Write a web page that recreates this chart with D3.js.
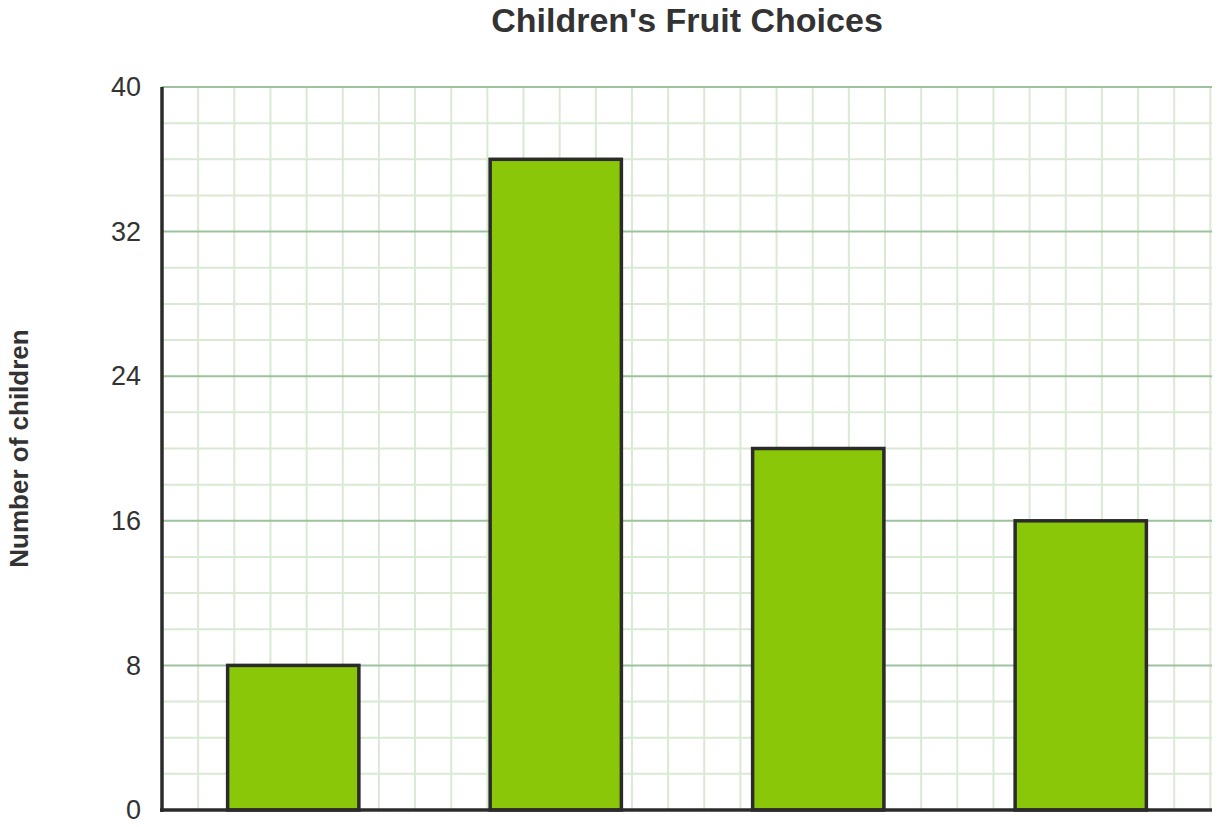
<!DOCTYPE html>
<html>
<head>
<meta charset="utf-8">
<script src="https://cdn.jsdelivr.net/npm/d3@7"></script>
<style>
	body { margin: 0; background: #fff; }
</style>
</head>
<body>
<div class="bar-chart"></div>
<script>
var fruits = ['Apple', 'Banana', 'Orange', 'Pear'];
var children = [8, 36, 20, 16];
var yTicks = [0, 8, 16, 24, 32, 40];
var yMinorTicks = d3.range(0, 41, 2);

var textColor = '#333333',
	axisColor = '#2b2b2b',
	barColor = '#8ac709',
	majorGridColor = '#9dc29d',
	minorGridColor = '#d9ead3';

var width = 1220,
	height = 827;
var margin = {top: 87, left: 162, bottom: 17, right: 8};

var x = d3.scaleBand()
	.domain(fruits)
	.range([margin.left, width - margin.right])
	.paddingInner(0.5)
	.paddingOuter(0.25);
var y = d3.scaleLinear().domain([0, 40]).range([height - margin.bottom, margin.top]);

var svg = d3.select('.bar-chart').append('svg')
	.attr('width', width)
	.attr('height', height)
	.attr('font-family', 'Liberation Sans, Arial, sans-serif');

// square grid: vertical lines spaced like the minor horizontal ones
var cell = y(0) - y(2);
var columns = d3.range(margin.left + cell, width - margin.right + 1, cell);
svg.append('g').selectAll('line')
	.data(columns)
	.join('line')
		.attr('x1', function(d) { return d; })
		.attr('x2', function(d) { return d; })
		.attr('y1', y(40))
		.attr('y2', y(0))
		.attr('stroke', minorGridColor)
		.attr('stroke-width', 2);
svg.append('g').selectAll('line')
	.data(yMinorTicks.filter(function(d) { return d % 8 !== 0; }))
	.join('line')
		.attr('x1', margin.left)
		.attr('x2', width - margin.right)
		.attr('y1', function(d) { return y(d); })
		.attr('y2', function(d) { return y(d); })
		.attr('stroke', minorGridColor)
		.attr('stroke-width', 2);
svg.append('g').selectAll('line')
	.data(yTicks.filter(function(d) { return d > 0; }))
	.join('line')
		.attr('x1', margin.left)
		.attr('x2', width - margin.right)
		.attr('y1', function(d) { return y(d); })
		.attr('y2', function(d) { return y(d); })
		.attr('stroke', majorGridColor)
		.attr('stroke-width', 2);

// bars
svg.append('g').selectAll('rect')
	.data(children)
	.join('rect')
		.attr('x', function(d, i) { return x(fruits[i]); })
		.attr('y', function(d) { return y(d); })
		.attr('width', x.bandwidth())
		.attr('height', function(d) { return y(0) - y(d); })
		.attr('fill', barColor)
		.attr('stroke', axisColor)
		.attr('stroke-width', 3.5);

// axes
svg.append('line')
	.attr('x1', margin.left)
	.attr('x2', margin.left)
	.attr('y1', y(40))
	.attr('y2', y(0) + 2)
	.attr('stroke', axisColor)
	.attr('stroke-width', 3.5);
svg.append('line')
	.attr('x1', margin.left - 2)
	.attr('x2', width - margin.right)
	.attr('y1', y(0))
	.attr('y2', y(0))
	.attr('stroke', axisColor)
	.attr('stroke-width', 3.5);

var yAxis = svg.append('g')
	.attr('transform', 'translate(' + margin.left + ',0)')
	.call(d3.axisLeft(y).tickValues(yTicks).tickSize(0).tickPadding(21));
yAxis.select('.domain').remove();
yAxis.selectAll('text')
	.attr('font-family', 'Liberation Sans, Arial, sans-serif')
	.attr('font-size', '27px')
	.attr('fill', textColor);

// title and axis label
svg.append('text')
	.attr('x', (margin.left + width - margin.right) / 2)
	.attr('y', 32)
	.attr('text-anchor', 'middle')
	.attr('font-size', '34px')
	.attr('font-weight', 'bold')
	.attr('fill', textColor)
	.text("Children's Fruit Choices");
svg.append('text')
	.attr('transform', 'translate(28,' + (y(20)) + ') rotate(-90)')
	.attr('text-anchor', 'middle')
	.attr('font-size', '26px')
	.attr('font-weight', 'bold')
	.attr('fill', textColor)
	.text('Number of children');
</script>
</body>
</html>
